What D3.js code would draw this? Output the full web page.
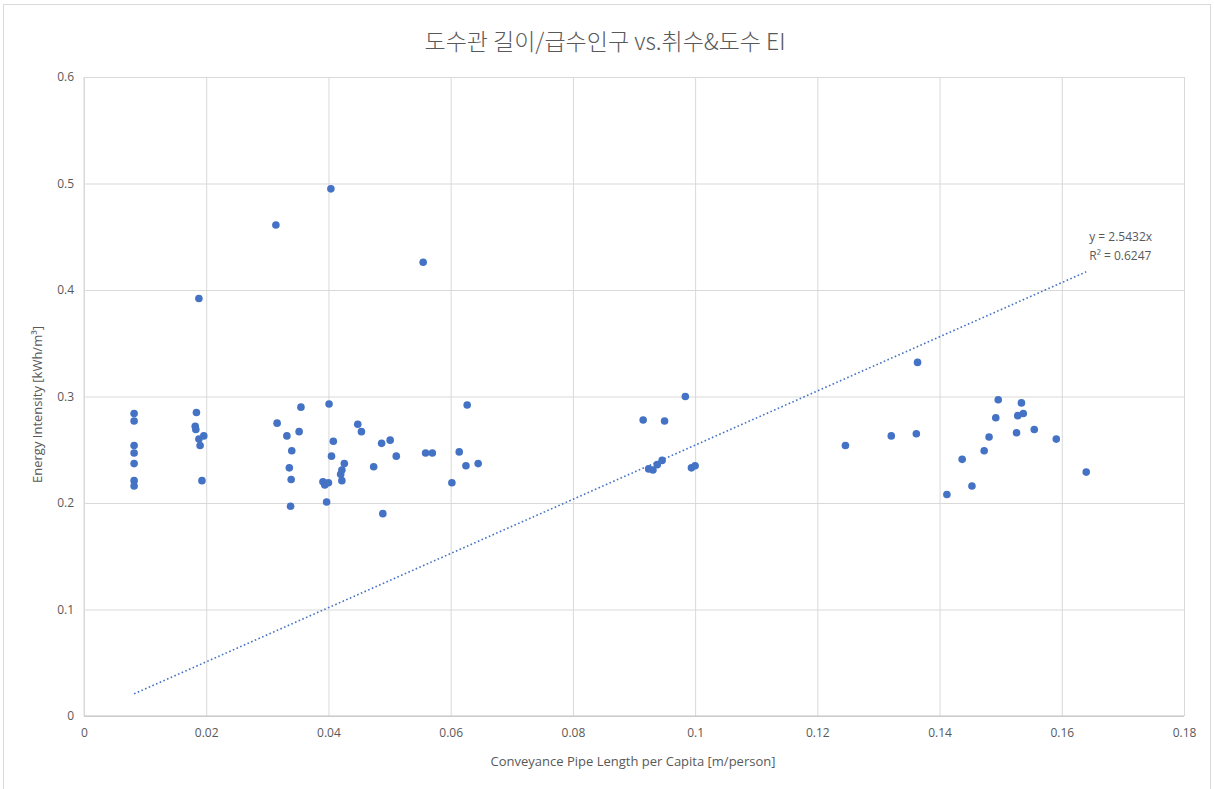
<!DOCTYPE html>
<html>
<head>
    <title>Conveyance pipe length vs EI</title>
    <script src="https://cdnjs.cloudflare.com/ajax/libs/d3/7.8.5/d3.min.js"></script>
    <style>
        body { margin: 0; background: #fff; }
        svg { display: block; }
        .tick text { fill: #595959; font-size: 12px; font-family: "Open Sans", "Noto Sans", sans-serif; }
        .grid line { stroke: #d9d9d9; stroke-width: 1px; }
        .label { fill: #595959; font-family: "Open Sans", "Noto Sans", sans-serif; }
    </style>
</head>
<body>
<div id="chart"></div>
<script>
// x: pipe length per capita [m/person], y: energy intensity [kWh/m3]
const pipeLength = [
    0.0082, 0.0082, 0.0082, 0.0082, 0.0082, 0.0082, 0.0082,
    0.0184, 0.0182, 0.0183, 0.0188, 0.0196, 0.0190, 0.0193, 0.0188,
    0.0314, 0.0404, 0.0555, 0.0316, 0.0332, 0.0355, 0.0352, 0.0340, 0.0336, 0.0339, 0.0338,
    0.0401, 0.0408, 0.0405, 0.0426, 0.0422, 0.0420, 0.0422, 0.0391, 0.0394, 0.0400, 0.0397,
    0.0448, 0.0454, 0.0487, 0.0501, 0.0511, 0.0474, 0.0489, 0.0559, 0.0570,
    0.0627, 0.0614, 0.0625, 0.0645, 0.0602,
    0.0915, 0.0950, 0.0984, 0.0924, 0.0931, 0.0938, 0.0946, 0.0994, 0.1000,
    0.1364, 0.1246, 0.1321, 0.1362, 0.1412, 0.1437, 0.1453, 0.1473, 0.1481,
    0.1492, 0.1496, 0.1526, 0.1528, 0.1537, 0.1534, 0.1555, 0.1591, 0.1640
];
const energyIntensity = [
    0.284, 0.277, 0.254, 0.247, 0.237, 0.221, 0.216,
    0.285, 0.272, 0.269, 0.260, 0.263, 0.254, 0.221, 0.392,
    0.461, 0.495, 0.426, 0.275, 0.263, 0.290, 0.267, 0.249, 0.233, 0.222, 0.197,
    0.293, 0.258, 0.244, 0.237, 0.231, 0.227, 0.221, 0.220, 0.217, 0.219, 0.201,
    0.274, 0.267, 0.256, 0.259, 0.244, 0.234, 0.190, 0.247, 0.247,
    0.292, 0.248, 0.235, 0.237, 0.219,
    0.278, 0.277, 0.300, 0.232, 0.231, 0.236, 0.240, 0.233, 0.235,
    0.332, 0.254, 0.263, 0.265, 0.208, 0.241, 0.216, 0.249, 0.262,
    0.280, 0.297, 0.266, 0.282, 0.284, 0.294, 0.269, 0.260, 0.229
];
const points = pipeLength.map((x, i) => ({ x: x, y: energyIntensity[i] }));

const slope = 2.5432;
const trendLabel = ['y = 2.5432x', 'R² = 0.6247'];
const xTicks = [0, 0.02, 0.04, 0.06, 0.08, 0.1, 0.12, 0.14, 0.16, 0.18];
const yTicks = [0, 0.1, 0.2, 0.3, 0.4, 0.5, 0.6];

const width = 1214, height = 789;
const margin = { left: 84, right: 30, top: 77, bottom: 73 };

const svg = d3.select('#chart').append('svg')
    .attr('width', width)
    .attr('height', height);

// outer chart border
svg.append('rect')
    .attr('x', 3.5).attr('y', 4.5)
    .attr('width', 1207).attr('height', 800)
    .attr('fill', '#fff')
    .attr('stroke', '#d9d9d9');

const x = d3.scaleLinear().domain([0, 0.18]).range([margin.left, width - margin.right]);
const y = d3.scaleLinear().domain([0, 0.6]).range([height - margin.bottom, margin.top]);

// gridlines
svg.append('g').attr('class', 'grid')
    .attr('transform', `translate(0,${y(0)})`)
    .call(d3.axisBottom(x).tickValues(xTicks).tickSize(-(y(0) - y(0.6))).tickFormat(''))
    .call(g => g.select('.domain').remove());
svg.append('g').attr('class', 'grid')
    .attr('transform', `translate(${x(0)},0)`)
    .call(d3.axisLeft(y).tickValues(yTicks).tickSize(-(x(0.18) - x(0))).tickFormat(''))
    .call(g => g.select('.domain').remove());

// axis baselines
svg.append('line')
    .attr('x1', x(0)).attr('x2', x(0.18))
    .attr('y1', y(0)).attr('y2', y(0))
    .attr('stroke', '#bfbfbf');
svg.append('line')
    .attr('x1', x(0)).attr('x2', x(0))
    .attr('y1', y(0)).attr('y2', y(0.6))
    .attr('stroke', '#d9d9d9');

// tick labels
svg.append('g')
    .attr('transform', `translate(0,${y(0)})`)
    .call(d3.axisBottom(x).tickValues(xTicks).tickSize(0).tickPadding(12).tickFormat(d => d3.format('')(d)))
    .call(g => g.select('.domain').remove());
svg.append('g')
    .attr('transform', `translate(${x(0)},0)`)
    .call(d3.axisLeft(y).tickValues(yTicks).tickSize(0).tickPadding(10).tickFormat(d => d3.format('')(d)))
    .call(g => g.select('.domain').remove());

// trendline over data extent
const xExt = d3.extent(pipeLength);
svg.append('line')
    .attr('x1', x(xExt[0])).attr('y1', y(slope * xExt[0]))
    .attr('x2', x(xExt[1])).attr('y2', y(slope * xExt[1]))
    .attr('stroke', '#4472c4')
    .attr('stroke-width', 1.6)
    .attr('stroke-dasharray', '1.6,2.4');

// points
svg.append('g')
    .selectAll('circle')
    .data(points)
    .join('circle')
    .attr('cx', d => x(d.x))
    .attr('cy', d => y(d.y))
    .attr('r', 3.8)
    .attr('fill', '#4472c4');

// trend equation
svg.append('text')
    .attr('class', 'label')
    .attr('x', x(xExt[1]) + 3)
    .attr('y', 241)
    .attr('font-size', 12)
    .selectAll('tspan')
    .data(trendLabel)
    .join('tspan')
    .attr('x', x(xExt[1]) + 3)
    .attr('dy', (d, i) => i ? 19 : 0)
    .text(d => d);

// title
svg.append('text')
    .attr('class', 'label')
    .attr('x', 605).attr('y', 50)
    .attr('text-anchor', 'middle')
    .attr('font-size', 23)
    .style('font-family', '"Noto Sans CJK KR", sans-serif')
    .style('font-weight', 300)
    .text('도수관 길이/급수인구 vs.취수&도수 EI');

// axis titles
svg.append('text')
    .attr('class', 'label')
    .attr('x', 633).attr('y', 766)
    .attr('text-anchor', 'middle')
    .attr('font-size', 13)
    .text('Conveyance Pipe Length per Capita [m/person]');

svg.append('text')
    .attr('class', 'label')
    .attr('transform', `translate(42,${(y(0) + y(0.6)) / 2 + 8}) rotate(-90)`)
    .attr('text-anchor', 'middle')
    .attr('font-size', 13)
    .text('Energy Intensity [kWh/m³]');
</script>
</body>
</html>
